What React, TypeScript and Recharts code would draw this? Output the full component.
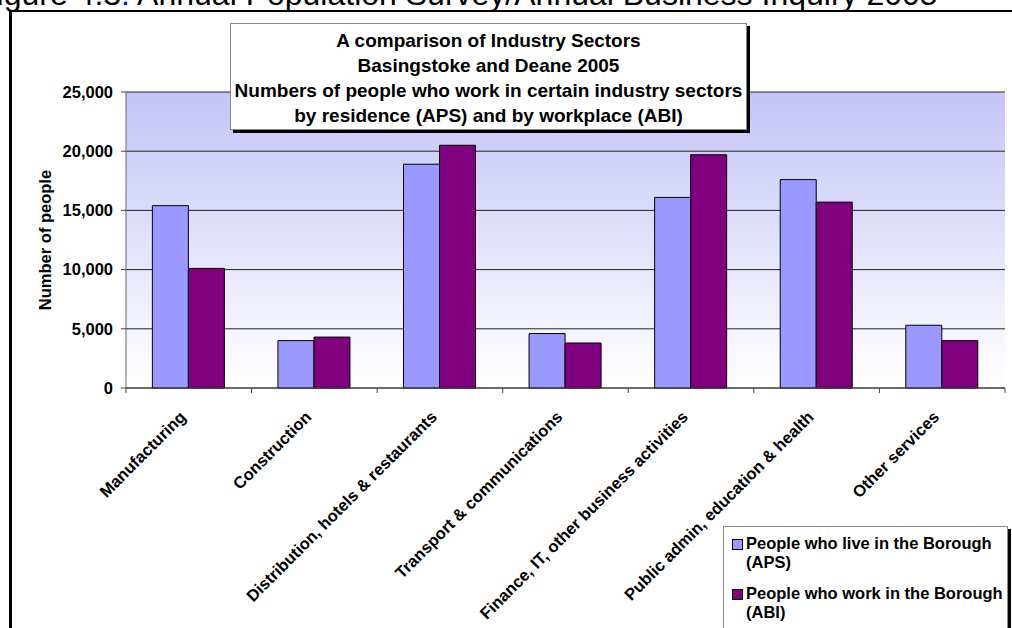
import React from 'react';
import { BarChart, Bar, XAxis, YAxis, CartesianGrid } from 'recharts';

const categories = [
  'Manufacturing',
  'Construction',
  'Distribution, hotels & restaurants',
  'Transport & communications',
  'Finance, IT, other business activities',
  'Public admin, education & health',
  'Other services',
];
const liveInBorough = [15400, 4000, 18900, 4600, 16100, 17600, 5300];
const workInBorough = [10100, 4300, 20500, 3800, 19700, 15700, 4000];
const yTicks = [0, 5000, 10000, 15000, 20000, 25000];

const titleLines = [
  'A comparison of Industry Sectors',
  'Basingstoke and Deane 2005',
  'Numbers of people who work in certain industry sectors',
  'by residence (APS) and by workplace (ABI)',
];

const legendItems = [
  { color: '#9999ff', lines: ['People who live in the Borough', '(APS)'] },
  { color: '#800080', lines: ['People who work in the Borough', '(ABI)'] },
];

const data = categories.map((name, i) => ({
  name,
  live: liveInBorough[i],
  work: workInBorough[i],
}));

const FONT = '"Liberation Sans", Arial, sans-serif';
const W = 1012;
const H = 628;
const Y_AXIS_W = 126;
const RIGHT = 7;
const band = (W - Y_AXIS_W - RIGHT) / categories.length;

const XTick = (props: any) => {
  const { x, y, payload, index } = props;
  const last = index === categories.length - 1;
  return (
    <g>
      <line x1={x - band / 2} x2={x - band / 2} y1={y} y2={y + 5} stroke="#444" />
      {last && <line x1={x + band / 2} x2={x + band / 2} y1={y} y2={y + 5} stroke="#444" />}
      <text
        transform={`translate(${x - 2},${y + 30}) rotate(-45)`}
        textAnchor="end"
        fontFamily={FONT}
        fontWeight="bold"
        fontSize={16.5}
        fill="#000"
      >
        {payload.value}
      </text>
    </g>
  );
};

export default function App() {
  return (
    <div
      style={{
        position: 'fixed',
        left: 0,
        top: 0,
        width: W,
        height: H,
        overflow: 'hidden',
        background: '#fff',
        fontFamily: FONT,
      }}
    >
      <div
        style={{
          position: 'absolute',
          left: -23,
          top: -24,
          fontSize: 32,
          whiteSpace: 'nowrap',
          color: '#000',
          lineHeight: '36px',
        }}
      >
        Figure 4.3<span style={{ color: '#00f' }}>:</span> Annual Population Survey/Annual Business Inquiry 2005
      </div>
      <div
        style={{
          position: 'absolute',
          left: 9,
          top: 10,
          width: 1100,
          height: 700,
          borderLeft: '3px solid #000',
          borderTop: '2px solid #000',
        }}
      />
      <div style={{ position: 'absolute', left: 0, top: 0 }}>
        <BarChart
          width={W}
          height={H}
          data={data}
          margin={{ top: 92, right: RIGHT, bottom: 0, left: 0 }}
          barCategoryGap="21%"
          barGap={0}
        >
          <defs>
            <linearGradient id="plotBg" x1="0" y1="0" x2="0" y2="1">
              <stop offset="0%" stopColor="#c4c4f7" />
              <stop offset="100%" stopColor="#ffffff" />
            </linearGradient>
          </defs>
          <CartesianGrid
            vertical={false}
            stroke="#222"
            fill="url(#plotBg)"
            fillOpacity={1}
            yAxisId="left"
          />
          <XAxis
            dataKey="name"
            height={240}
            interval={0}
            tickLine={false}
            tickSize={0}
            tickMargin={0}
            axisLine={{ stroke: '#444' }}
            tick={<XTick />}
          />
          <YAxis
            yAxisId="left"
            width={Y_AXIS_W}
            domain={[0, 25000]}
            ticks={yTicks}
            interval={0}
            tickSize={5}
            tickMargin={8}
            tickLine={{ stroke: '#444' }}
            axisLine={{ stroke: '#666' }}
            tickFormatter={(v: number) => v.toLocaleString('en-US')}
            tick={{ fill: '#000', fontFamily: FONT, fontWeight: 'bold', fontSize: 16.5 }}
            label={{
              value: 'Number of people',
              angle: -90,
              position: 'center',
              dx: -18,
              style: { fontFamily: FONT, fontWeight: 'bold', fontSize: 16.5, fill: '#000' },
            }}
          />
          <YAxis
            yAxisId="right"
            orientation="right"
            width={0}
            domain={[0, 25000]}
            tick={false}
            tickLine={false}
            axisLine={{ stroke: '#888' }}
          />
          <Bar
            yAxisId="left"
            dataKey="live"
            name="People who live in the Borough (APS)"
            fill="#9999ff"
            stroke="#000"
            strokeWidth={1}
            isAnimationActive={false}
          />
          <Bar
            yAxisId="left"
            dataKey="work"
            name="People who work in the Borough (ABI)"
            fill="#800080"
            stroke="#000"
            strokeWidth={1}
            isAnimationActive={false}
          />
        </BarChart>
      </div>
      <div
        style={{
          position: 'absolute',
          left: 230,
          top: 23,
          width: 517,
          height: 107,
          boxSizing: 'border-box',
          background: '#fff',
          border: '1px solid #888',
          boxShadow: '3px 3px 0 #000',
          textAlign: 'center',
          fontWeight: 'bold',
          fontSize: 19,
          lineHeight: '25px',
          paddingTop: 4,
          color: '#000',
          whiteSpace: 'nowrap',
        }}
      >
        {titleLines.map((l) => (
          <div key={l}>{l}</div>
        ))}
      </div>
      <div
        style={{
          position: 'absolute',
          left: 723,
          top: 526,
          width: 285,
          height: 110,
          background: '#fff',
          border: '1px solid #888',
          boxShadow: '3px 3px 0 #000',
          fontWeight: 'bold',
          fontSize: 16.5,
          lineHeight: '19px',
          color: '#000',
          boxSizing: 'border-box',
          padding: '7px 0 0 8px',
          whiteSpace: 'nowrap',
        }}
      >
        {legendItems.map((item) => (
          <div key={item.color} style={{ display: 'flex', marginBottom: 12 }}>
            <div
              style={{
                width: 9,
                height: 9,
                background: item.color,
                border: '1px solid #000',
                marginTop: 5,
                marginRight: 3,
                flexShrink: 0,
              }}
            />
            <div>
              {item.lines.map((l) => (
                <div key={l}>{l}</div>
              ))}
            </div>
          </div>
        ))}
      </div>
    </div>
  );
}
